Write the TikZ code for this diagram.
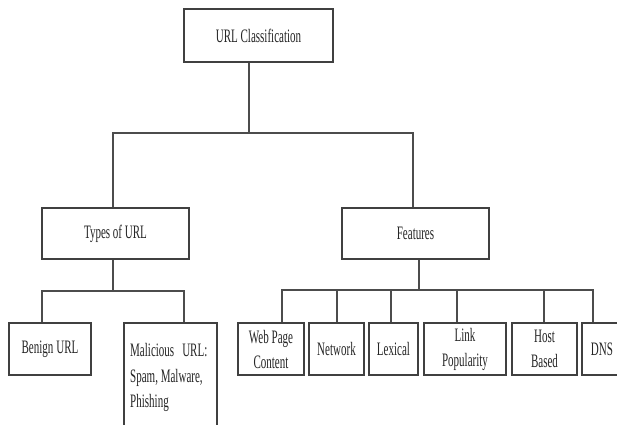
\documentclass[tikz,border=0pt]{standalone}
\usepackage{fontspec}
\setmainfont{Liberation Serif}[FakeStretch=0.58]
\begin{document}
\begin{tikzpicture}[x=1pt,y=-1pt,
  box/.style={draw=black!75, line width=1.4pt, fill=white, inner sep=0pt, anchor=center,
    font=\fontsize{19}{25}\selectfont, text=black!85, align=center},
  conn/.style={draw=black!70, line width=1.3pt},
  lbl/.style={inner sep=0pt, font=\fontsize{19}{25.5}\selectfont, text=black!85, align=left}]
\useasboundingbox (0,0) rectangle (617,424);
\clip (0,0) rectangle (617,424);
% nodes
\node[box, minimum width=149, minimum height=53] (root) at (258.5,35.5) {URL Classification};
\node[box, minimum width=147, minimum height=51] (types) at (115.5,233.5) {Types of URL};
\node[box, minimum width=147, minimum height=51] (features) at (415.5,233.5) {Features};
\node[box, minimum width=82, minimum height=52] (benign) at (50,349) {Benign\hspace{3pt}URL};
\node[box, minimum width=93, minimum height=130] (malicious) at (170.5,388) {};
\node[lbl, anchor=north west] (maltext) at (130,343.5) {Malicious\hspace{8pt}URL:\\Spam, Malware,\\Phishing};
\node[box, minimum width=66, minimum height=52] (web) at (271,349) {Web Page\\Content};
\node[box, minimum width=55, minimum height=52] (network) at (336.5,349) {Network};
\node[box, minimum width=49, minimum height=52] (lexical) at (393.5,349) {Lexical};
\node[box, minimum width=82, minimum height=52] (link) at (465,349) {Link\\Popularity};
\node[box, minimum width=65, minimum height=52] (host) at (544.5,349) {Host\\Based};
\node[box, minimum width=40, minimum height=52] (dns) at (602,349) {DNS};
% bus coordinates
\coordinate (rbus) at (249,133);
\coordinate (tbus) at (113,291);
\coordinate (fbus) at (419,290);
% connectors
\draw[conn] ([xshift=-9.5pt]root.south) -- (rbus);
\draw[conn] ([xshift=-2.5pt]types.north) |- (rbus);
\draw[conn] ([xshift=-2.5pt]features.north) |- (rbus);
\draw[conn] ([xshift=-2.5pt]types.south) -- (tbus);
\draw[conn] ([xshift=-8pt]benign.north) |- (tbus);
\draw[conn] ([xshift=13.5pt]malicious.north) |- (tbus);
\draw[conn] ([xshift=3.5pt]features.south) -- (fbus);
\draw[conn] ([xshift=11pt]web.north) |- (fbus);
\draw[conn] ([xshift=0.5pt]network.north) |- (fbus);
\draw[conn] ([xshift=-2.5pt]lexical.north) |- (fbus);
\draw[conn] ([xshift=-8pt]link.north) |- (fbus);
\draw[conn] ([xshift=-0.5pt]host.north) |- (fbus);
\draw[conn] ([xshift=-9pt]dns.north) |- (fbus);
\end{tikzpicture}
\end{document}
